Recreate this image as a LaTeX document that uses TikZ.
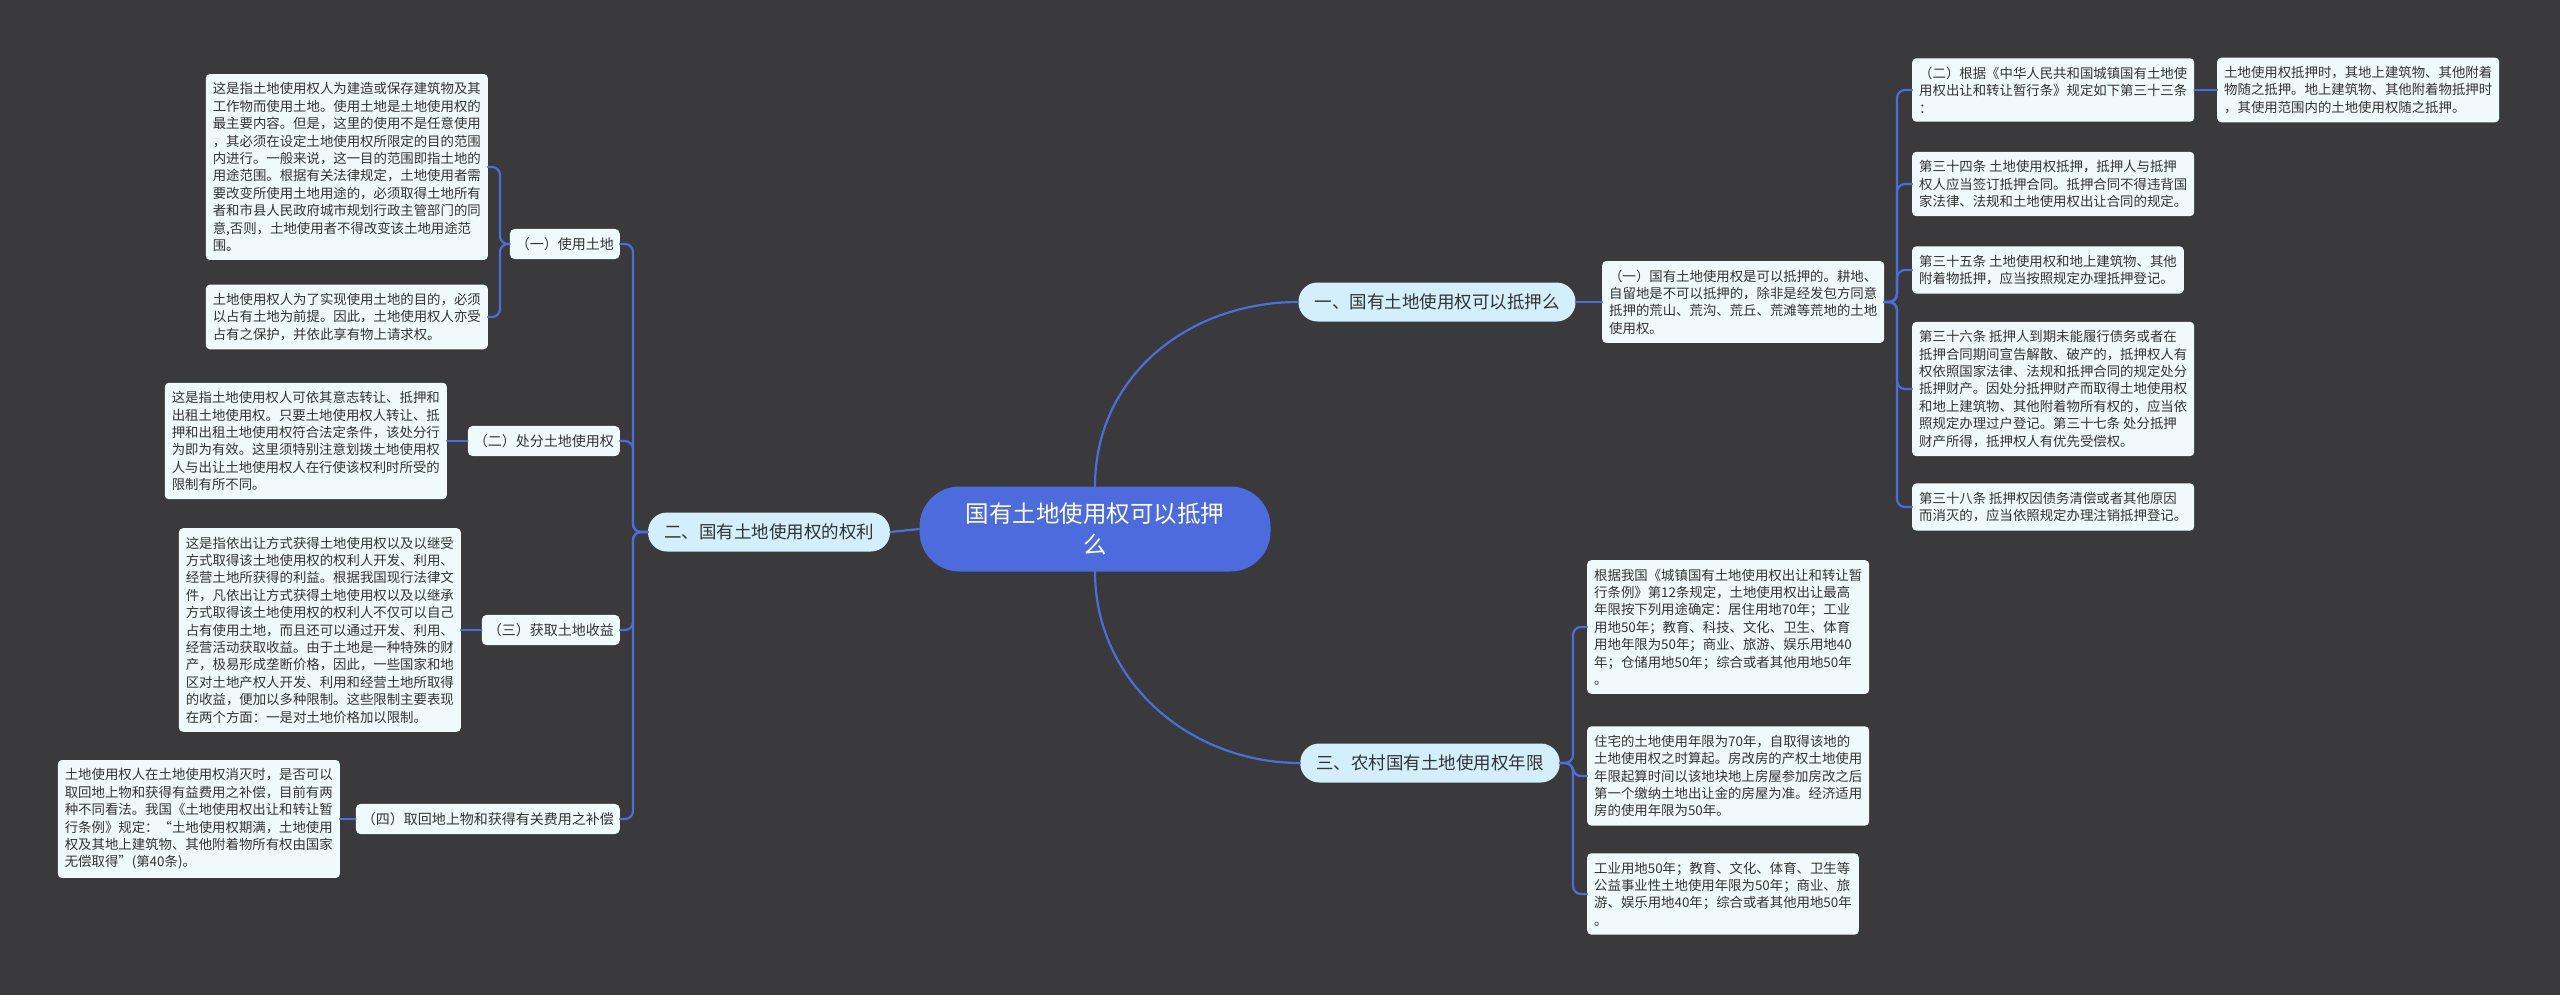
\documentclass[tikz,border=0pt]{standalone}
\usepackage{fontspec}
\newfontfamily\cjk{Noto Sans CJK SC}
\usepackage{tikz}
\definecolor{canvas}{HTML}{3A393B}
\definecolor{linkblue}{HTML}{4B6EDC}
\definecolor{rootblue}{HTML}{4C6CDE}
\definecolor{branchfill}{HTML}{D2EFFB}
\definecolor{leaffill}{HTML}{F0FAFD}
\definecolor{ink}{HTML}{333333}
\newcommand{\leaffont}{\cjk\fontsize{13.4}{17.4}\selectfont}
\newcommand{\subfont}{\cjk\fontsize{14}{17}\selectfont}
\newcommand{\branchfont}{\cjk\fontsize{17.5}{21}\selectfont}
\newcommand{\rootfont}{\cjk\fontsize{23.5}{31}\selectfont}
\tikzset{
  every picture/.style={
    line join=round,
    line cap=round,
  },
  link/.style={draw=linkblue, line width=2.2pt, rounded corners=8pt},
  leaf/.style={fill=leaffill, text=ink, rounded corners=4pt, align=left,
    inner xsep=7pt, inner ysep=8.5pt, font=\leaffont},
  sub/.style={fill=leaffill, text=ink, rounded corners=5pt,
    inner xsep=6pt, inner ysep=8.5pt, font=\subfont},
  branch/.style={fill=branchfill, text=ink, rounded corners=19pt,
    inner xsep=16pt, minimum height=39pt, font=\branchfont},
  rootnode/.style={fill=rootblue, text=white, rounded corners=40pt, align=center,
    minimum width=351pt, minimum height=85pt, font=\rootfont},
}

\begin{document}
\begin{tikzpicture}[x=1pt, y=-1pt]
    % Canvas
    \fill[canvas] (0,0) rectangle (2560,995);
    \useasboundingbox (0,0) rectangle (2560,995);

    % Centre and main branches
    \node[rootnode] (root) at (1095,529) {国有土地使用权可以抵押\\么};
    \node[branch] (b1) at (1437,302) {一、国有土地使用权可以抵押么};
    \node[branch] (b2) at (769,532) {二、国有土地使用权的权利};
    \node[branch] (b3) at (1430,763) {三、农村国有土地使用权年限};

    % Left side: rights
    \node[sub, anchor=east] (s1) at (620,244) {（一）使用土地};
    \node[sub, anchor=east] (s2) at (620,441) {（二）处分土地使用权};
    \node[sub, anchor=east] (s3) at (620,630) {（三）获取土地收益};
    \node[sub, anchor=east] (s4) at (620,819) {（四）取回地上物和获得有关费用之补偿};

    \node[leaf, anchor=east] (l1a) at (488,167) {这是指土地使用权人为建造或保存建筑物及其\\工作物而使用土地。使用土地是土地使用权的\\最主要内容。但是，这里的使用不是任意使用\\，其必须在设定土地使用权所限定的目的范围\\内进行。一般来说，这一目的范围即指土地的\\用途范围。根据有关法律规定，土地使用者需\\要改变所使用土地用途的，必须取得土地所有\\者和市县人民政府城市规划行政主管部门的同\\意,否则，土地使用者不得改变该土地用途范\\围。};
    \node[leaf, anchor=east] (l1b) at (488,317) {土地使用权人为了实现使用土地的目的，必须\\以占有土地为前提。因此，土地使用权人亦受\\占有之保护，并依此享有物上请求权。};
    \node[leaf, anchor=east] (l2) at (447,441) {这是指土地使用权人可依其意志转让、抵押和\\出租土地使用权。只要土地使用权人转让、抵\\押和出租土地使用权符合法定条件，该处分行\\为即为有效。这里须特别注意划拨土地使用权\\人与出让土地使用权人在行使该权利时所受的\\限制有所不同。};
    \node[leaf, anchor=east] (l3) at (461,630) {这是指依出让方式获得土地使用权以及以继受\\方式取得该土地使用权的权利人开发、利用、\\经营土地所获得的利益。根据我国现行法律文\\件，凡依出让方式获得土地使用权以及以继承\\方式取得该土地使用权的权利人不仅可以自己\\占有使用土地，而且还可以通过开发、利用、\\经营活动获取收益。由于土地是一种特殊的财\\产，极易形成垄断价格，因此，一些国家和地\\区对土地产权人开发、利用和经营土地所取得\\的收益，便加以多种限制。这些限制主要表现\\在两个方面：一是对土地价格加以限制。};
    \node[leaf, anchor=east] (l4) at (340,819) {土地使用权人在土地使用权消灭时，是否可以\\取回地上物和获得有益费用之补偿，目前有两\\种不同看法。我国《土地使用权出让和转让暂\\行条例》规定：“土地使用权期满，土地使用\\权及其地上建筑物、其他附着物所有权由国家\\无偿取得”(第40条)。};

    % Right side, upper: mortgage
    \node[leaf, anchor=west] (r1) at (1602,302) {（一）国有土地使用权是可以抵押的。耕地、\\自留地是不可以抵押的，除非是经发包方同意\\抵押的荒山、荒沟、荒丘、荒滩等荒地的土地\\使用权。};
    \node[leaf, anchor=west] (r1a) at (1912,90) {（二）根据《中华人民共和国城镇国有土地使\\用权出让和转让暂行条》规定如下第三十三条\\：};
    \node[leaf, anchor=west] (r1f) at (2217,90) {土地使用权抵押时，其地上建筑物、其他附着\\物随之抵押。地上建筑物、其他附着物抵押时\\，其使用范围内的土地使用权随之抵押。};
    \node[leaf, anchor=west] (r1b) at (1912,184) {第三十四条 土地使用权抵押，抵押人与抵押\\权人应当签订抵押合同。抵押合同不得违背国\\家法律、法规和土地使用权出让合同的规定。};
    \node[leaf, anchor=west] (r1c) at (1912,270) {第三十五条 土地使用权和地上建筑物、其他\\附着物抵押，应当按照规定办理抵押登记。};
    \node[leaf, anchor=west] (r1d) at (1912,389) {第三十六条 抵押人到期未能履行债务或者在\\抵押合同期间宣告解散、破产的，抵押权人有\\权依照国家法律、法规和抵押合同的规定处分\\抵押财产。因处分抵押财产而取得土地使用权\\和地上建筑物、其他附着物所有权的，应当依\\照规定办理过户登记。第三十七条 处分抵押\\财产所得，抵押权人有优先受偿权。};
    \node[leaf, anchor=west] (r1e) at (1912,507) {第三十八条 抵押权因债务清偿或者其他原因\\而消灭的，应当依照规定办理注销抵押登记。};

    % Right side, lower: terms
    \node[leaf, anchor=west] (r3a) at (1587,627) {根据我国《城镇国有土地使用权出让和转让暂\\行条例》第12条规定，土地使用权出让最高\\年限按下列用途确定：居住用地70年；工业\\用地50年；教育、科技、文化、卫生、体育\\用地年限为50年；商业、旅游、娱乐用地40\\年；仓储用地50年；综合或者其他用地50年\\。};
    \node[leaf, anchor=west] (r3b) at (1587,776) {住宅的土地使用年限为70年，自取得该地的\\土地使用权之时算起。房改房的产权土地使用\\年限起算时间以该地块地上房屋参加房改之后\\第一个缴纳土地出让金的房屋为准。经济适用\\房的使用年限为50年。};
    \node[leaf, anchor=west] (r3c) at (1587,894) {工业用地50年；教育、文化、体育、卫生等\\公益事业性土地使用年限为50年；商业、旅\\游、娱乐用地40年；综合或者其他用地50年\\。};

    % Junctions
    \coordinate (j1) at (500,244);
    \coordinate (j2) at (633,532);
    \coordinate (j3) at (1897,302);
    \coordinate (j4) at (1573,763);

    % Connectors
    \draw[link] (root.north) .. controls +(0,-110) and +(-110,0) .. (b1.west);
    \draw[link] (root.south) .. controls +(0,110) and +(-110,0) .. (b3.west);
    \draw[link] (root.west) -- (b2.east);

    \foreach \s in {s1,s2,s3,s4}
      \draw[link] (\s.east) -| (j2) -- (b2.west);
    \draw[link] (l1a.east) -| (j1) -- (s1.west);
    \draw[link] (l1b.east) -| (j1) -- (s1.west);
    \draw[link] (l2.east) -- (s2.west);
    \draw[link] (l3.east) -- (s3.west);
    \draw[link] (l4.east) -- (s4.west);

    \draw[link] (b1.east) -- (r1.west);
    \foreach \r in {r1a,r1b,r1c,r1d,r1e}
      \draw[link] (r1.east) -- (j3) |- (\r.west);
    \draw[link] (r1a.east) -- (r1f.west);

    \foreach \r in {r3a,r3b,r3c}
      \draw[link] (b3.east) -- (j4) |- (\r.west);
\end{tikzpicture}
\end{document}
